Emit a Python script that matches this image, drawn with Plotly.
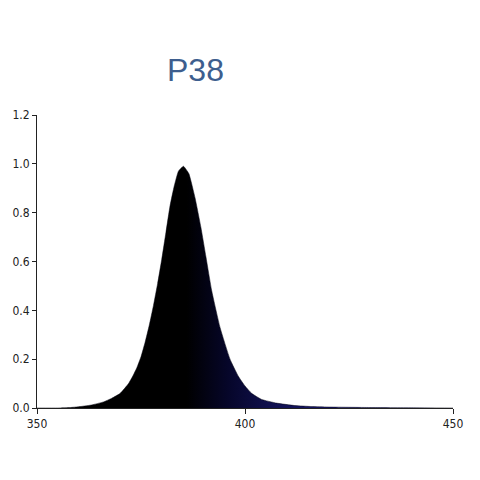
import plotly.graph_objects as go

wavelength = [350, 355, 358, 360, 363, 366, 368, 370, 372, 373, 374, 375, 376, 377, 378,
              379, 380, 381, 382, 383, 384, 385.2, 386.5, 388, 389.4, 390.6, 392, 394,
              396.4, 398.4, 400, 401.6, 404, 407.6, 412, 416, 420, 430, 440, 450]
intensity = [0, 0, 0.002, 0.005, 0.012, 0.025, 0.04, 0.06, 0.1, 0.13, 0.165, 0.21, 0.27,
             0.34, 0.42, 0.51, 0.61, 0.72, 0.83, 0.91, 0.97, 0.99, 0.96, 0.86, 0.74, 0.62,
             0.48, 0.33, 0.2, 0.13, 0.09, 0.06, 0.035, 0.02, 0.01, 0.006, 0.004, 0.002,
             0.001, 0]

x_ticks = [350, 400, 450]
y_ticks = [0.0, 0.2, 0.4, 0.6, 0.8, 1.0, 1.2]
y_labels = ["0.0", "0.2", "0.4", "0.6", "0.8", "1.0", "1.2"]
title_text = "P38"

fig = go.Figure()
fig.add_trace(go.Scatter(
    x=wavelength, y=intensity, mode="lines",
    line=dict(width=0.5, color="#050510", shape="spline", smoothing=0.4),
    fill="tozeroy",
    fillgradient=dict(type="horizontal",
                      colorscale=[[0, "#000000"], [0.36, "#000000"], [0.46, "#06062a"],
                                  [0.56, "#10104e"], [0.7, "#16166a"], [1, "#1c1c74"]]),
    hoverinfo="skip", showlegend=False,
))

tickfont = dict(family="DejaVu Sans Condensed, DejaVu Sans", size=12, color="#222222")
fig.update_layout(
    width=480, height=480,
    margin=dict(l=29, r=35, t=107, b=80, autoexpand=False),
    paper_bgcolor="white", plot_bgcolor="white",
    xaxis=dict(range=[350, 450], tickvals=x_ticks, ticktext=[str(v) for v in x_ticks],
               showgrid=False, zeroline=False, showline=True, linecolor="#222222",
               linewidth=1, ticks="outside", ticklen=5, tickcolor="#222222",
               tickfont=tickfont, automargin=False),
    yaxis=dict(range=[0, 1.2], tickvals=y_ticks, ticktext=y_labels,
               showgrid=False, zeroline=False, showline=True, linecolor="#222222",
               linewidth=1, ticks="outside", ticklen=4, tickcolor="#222222",
               tickfont=tickfont, automargin=False),
    annotations=[dict(text=title_text, x=0.38, y=1.154, xref="paper", yref="paper",
                      showarrow=False, xanchor="center", yanchor="middle",
                      font=dict(family="Liberation Sans, Arial", size=32, color="#3d5e8e"))],
)
fig.write_html("out.html")
